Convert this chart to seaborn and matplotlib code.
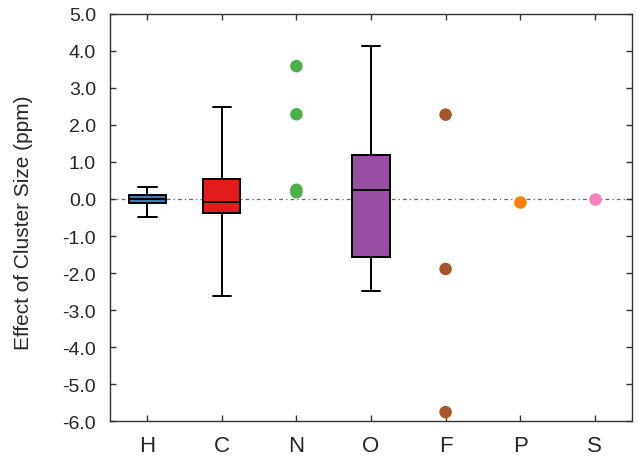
import numpy as np
import pandas as pd
import matplotlib
matplotlib.use("Agg")
import matplotlib.pyplot as plt
import seaborn as sns

categories = ["H", "C", "N", "O", "F", "P", "S"]
colors = ["#377EB8", "#E41A1C", "#4DAF4A", "#984EA3", "#A65628", "#FF7F00", "#F781BF"]

# five-number summaries (min, q1, median, q3, max)
box_H = [-0.49, -0.12, 0.0, 0.12, 0.32]
box_C = [-2.62, -0.37, -0.08, 0.54, 2.49]
box_O = [-2.48, -1.57, 0.25, 1.19, 4.13]

# individual points
pts_N = [3.59, 2.29, 0.25, 0.18]
pts_F = [2.28, -1.89, -5.76]
pts_P = [-0.08]
pts_S = [0.01]

yticks = np.arange(-6, 5.01, 1.0)

sns.set_theme(style="ticks")
plt.rcParams["font.family"] = ["Liberation Sans", "DejaVu Sans"]

box_df = pd.DataFrame({
    "cat": ["H"] * 5 + ["C"] * 5 + ["O"] * 5,
    "val": box_H + box_C + box_O,
})
pt_df = pd.DataFrame({
    "cat": ["N"] * len(pts_N) + ["F"] * len(pts_F) + ["P"] * len(pts_P) + ["S"] * len(pts_S),
    "val": pts_N + pts_F + pts_P + pts_S,
})
pal = dict(zip(categories, colors))

fig = plt.figure(figsize=(6.38, 4.6), dpi=100)
ax = fig.add_axes([0.1724, 0.0826, 0.8182, 0.8848])

ax.axhline(0, color="#666666", lw=0.9, ls=(0, (3, 2.5, 1, 2.5)), zorder=0)

sns.boxplot(data=box_df, x="cat", y="val", order=categories, hue="cat",
            hue_order=categories, palette=pal, whis=(0, 100), width=0.5,
            linecolor="black", linewidth=1.4, legend=False, ax=ax,
            saturation=1)
sns.stripplot(data=pt_df, x="cat", y="val", order=categories, hue="cat",
              hue_order=categories, palette=pal, jitter=False, size=9,
              linewidth=0, legend=False, ax=ax, zorder=5)

ax.set_xlim(-0.5, 6.5)
ax.set_ylim(-6, 5)
ax.set_yticks(yticks)
ax.set_yticklabels([f"{v:.1f}" for v in yticks])
ax.set_xlabel("")
ax.set_ylabel("Effect of Cluster Size (ppm)", fontsize=15)
ax.yaxis.set_label_coords(-0.148, 0.49)
ax.tick_params(direction="in", length=4, width=1, top=True, right=True,
               color="#333333")
ax.tick_params(axis="y", labelsize=14, pad=10)
ax.tick_params(axis="x", labelsize=16, pad=10)
for s in ax.spines.values():
    s.set_visible(True)
    s.set_linewidth(1.0)
    s.set_color("#333333")

fig.savefig("out.png", dpi=100)
